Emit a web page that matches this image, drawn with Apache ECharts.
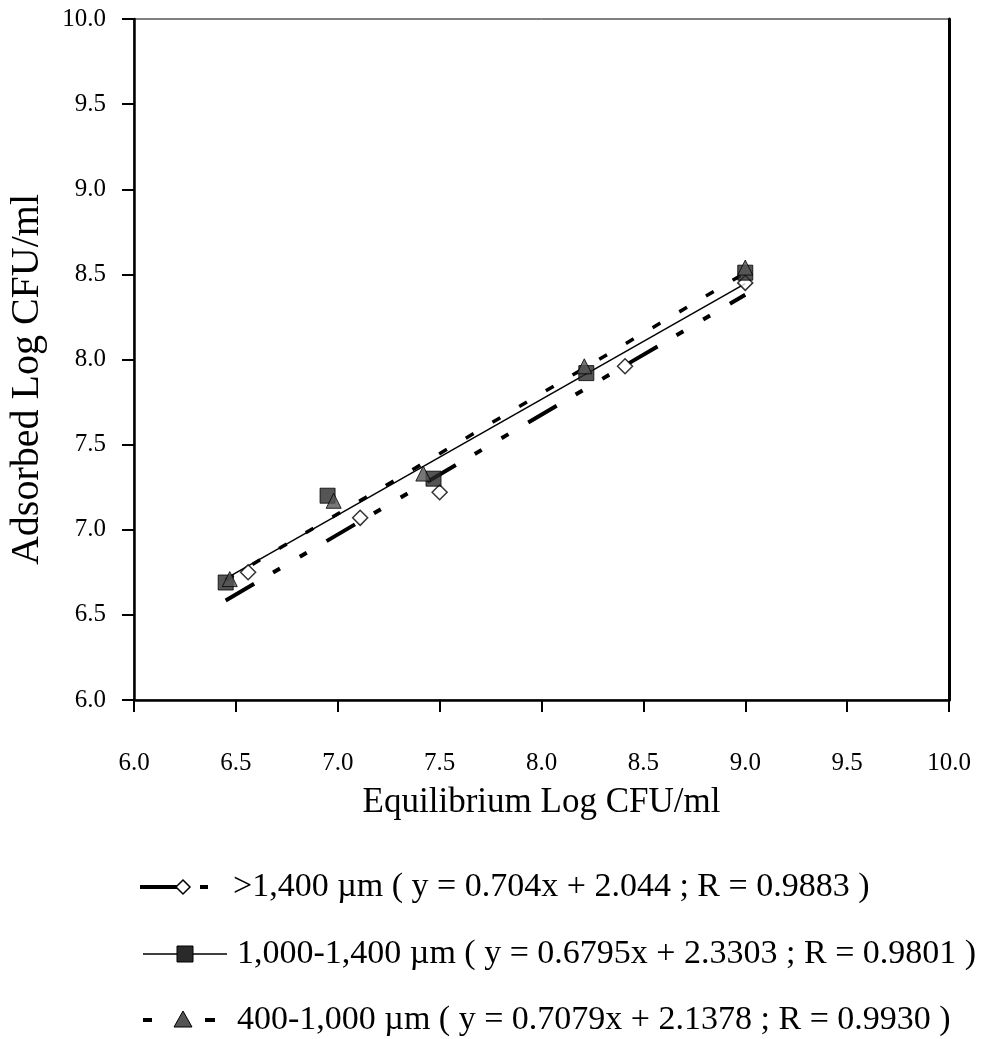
<!DOCTYPE html>
<html><head><meta charset="utf-8">
<script src="https://cdn.jsdelivr.net/npm/echarts@6/dist/echarts.min.js"></script>
<style>html,body{margin:0;padding:0;background:#fff}#c{width:992px;height:1039px}</style>
</head><body><div id="c"></div>
<script>
// ---- data ----
const seriesNames = ['>1,400 \u00b5m', '1,000-1,400 \u00b5m', '400-1,000 \u00b5m'];
const diamondPts  = [[6.56, 6.75], [7.11, 7.07], [7.50, 7.22], [8.41, 7.96], [9.00, 8.45]];
const squarePts   = [[6.45, 6.69], [6.95, 7.20], [7.47, 7.30], [8.22, 7.92], [9.00, 8.51]];
const trianglePts = [[6.47, 6.71], [6.98, 7.17], [7.42, 7.33], [8.21, 7.96], [9.00, 8.54]];
const slopes      = ['0.704', '0.6795', '0.7079'];
const intercepts  = ['2.044', '2.3303', '2.1378'];
const rValues     = ['0.9883', '0.9801', '0.9930'];
const fitRange    = [6.45, 9.00];
const axisMin = 6, axisMax = 10, axisStep = 0.5;
const xTitle = 'Equilibrium Log CFU/ml';
const yTitle = 'Adsorbed Log CFU/ml';

const FONT = '"Liberation Serif", "Times New Roman", serif';
const fitData = (i) => fitRange.map(x => [x, +(parseFloat(slopes[i]) * x + parseFloat(intercepts[i])).toFixed(4)]);
const legendText = (i) => seriesNames[i] + ' ( y = ' + slopes[i] + 'x + ' + intercepts[i] + ' ; R = ' + rValues[i] + ' )';

const chart = echarts.init(document.getElementById('c'), null, {renderer: 'canvas'});

const axisCommon = {
  type: 'value', min: axisMin, max: axisMax, interval: axisStep,
  splitLine: {show: false},
  axisLine: {show: true, onZero: false, lineStyle: {color: '#000', width: 2.5}},
  axisTick: {show: true, inside: false, length: 12, lineStyle: {color: '#000', width: 2}},
  axisLabel: {color: '#000', fontFamily: FONT, fontSize: 25, formatter: v => v.toFixed(1), showMinLabel: true, showMaxLabel: true}
};

const rowY = [887, 954, 1020];
const graphics = [];
// row 1: thick line, hollow diamond, short dash
graphics.push({type: 'line', shape: {x1: 140, y1: rowY[0], x2: 179, y2: rowY[0]}, style: {stroke: '#000', lineWidth: 4}});
graphics.push({type: 'polygon', shape: {points: [[183, rowY[0]-7], [190, rowY[0]], [183, rowY[0]+7], [176, rowY[0]]]}, style: {fill: '#fff', stroke: '#000', lineWidth: 1.5}});
graphics.push({type: 'line', shape: {x1: 200, y1: rowY[0], x2: 208, y2: rowY[0]}, style: {stroke: '#000', lineWidth: 4}});
// row 2: thin line with filled square
graphics.push({type: 'line', shape: {x1: 143, y1: rowY[1], x2: 227, y2: rowY[1]}, style: {stroke: '#000', lineWidth: 1.5}});
graphics.push({type: 'rect', shape: {x: 177, y: rowY[1]-8, width: 16, height: 16}, style: {fill: '#2a2a2a', stroke: '#000', lineWidth: 1}});
// row 3: dash, triangle, dash
graphics.push({type: 'line', shape: {x1: 143, y1: rowY[2], x2: 152, y2: rowY[2]}, style: {stroke: '#000', lineWidth: 4}});
graphics.push({type: 'polygon', shape: {points: [[183, rowY[2]-9], [192, rowY[2]+7], [174, rowY[2]+7]]}, style: {fill: '#555', stroke: '#000', lineWidth: 1}});
graphics.push({type: 'line', shape: {x1: 205, y1: rowY[2], x2: 215, y2: rowY[2]}, style: {stroke: '#000', lineWidth: 4}});
const textX = [233, 237, 237];
for (let i = 0; i < 3; i++) {
  graphics.push({type: 'text', x: textX[i], y: rowY[i], style: {text: legendText(i), fill: '#000', font: '34px ' + FONT, textVerticalAlign: 'middle', textAlign: 'left'}});
}

chart.setOption({
  animation: false,
  backgroundColor: '#fff',
  grid: {left: 134, right: 43, top: 19, bottom: 339, show: true, borderColor: '#000', borderWidth: 1, outerBoundsMode: 'none', containLabel: false},
  xAxis: Object.assign({}, axisCommon, {
    position: 'bottom',
    axisLabel: Object.assign({}, axisCommon.axisLabel, {margin: 51}),
    name: xTitle, nameLocation: 'middle', nameGap: 85,
    nameTextStyle: {color: '#000', fontFamily: FONT, fontSize: 35}
  }),
  yAxis: [
    Object.assign({}, axisCommon, {
      position: 'left',
      axisLabel: Object.assign({}, axisCommon.axisLabel, {margin: 28}),
      name: yTitle, nameLocation: 'middle', nameGap: 87,
      nameTextStyle: {color: '#000', fontFamily: FONT, fontSize: 40, padding: [0, 40, 0, 0]}
    }),
    {type: 'value', min: axisMin, max: axisMax, interval: axisStep, position: 'right',
     axisLine: {show: true, onZero: false, lineStyle: {color: '#000', width: 3}},
     axisTick: {show: false}, axisLabel: {show: false}, splitLine: {show: false}}
  ],
  graphic: graphics,
  series: [
    {name: seriesNames[0] + ' fit', type: 'line', data: fitData(0), symbol: 'none', silent: true, z: 2,
     lineStyle: {color: '#000', width: 4, type: [33, 22, 8, 23, 8, 23]}},
    {name: seriesNames[1] + ' fit', type: 'line', data: fitData(1), symbol: 'none', silent: true, z: 2,
     lineStyle: {color: '#000', width: 1.5, type: 'solid'}},
    {name: seriesNames[2] + ' fit', type: 'line', data: fitData(2), symbol: 'none', silent: true, z: 2,
     lineStyle: {color: '#000', width: 3.5, type: [9, 22]}},
    {name: seriesNames[0], type: 'scatter', data: diamondPts, symbol: 'diamond', symbolSize: [15, 15], z: 3,
     itemStyle: {color: '#fff', borderColor: '#000', borderWidth: 1.5}},
    {name: seriesNames[1], type: 'scatter', data: squarePts, symbol: 'rect', symbolSize: 15, z: 4,
     itemStyle: {color: '#2a2a2a', borderColor: '#000', borderWidth: 1}},
    {name: seriesNames[2], type: 'scatter', data: trianglePts, symbol: 'triangle', symbolSize: 15, z: 5,
     itemStyle: {color: '#555', borderColor: '#000', borderWidth: 1}}
  ]
});
</script></body></html>
